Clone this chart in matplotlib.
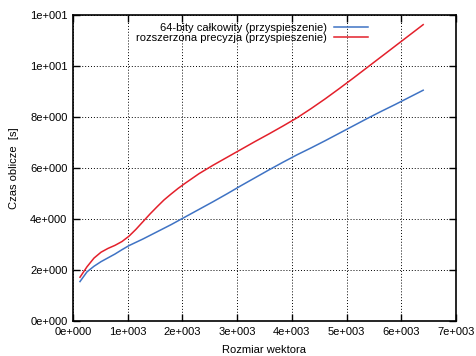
import matplotlib
matplotlib.use('Agg')
import matplotlib.pyplot as plt
from matplotlib.ticker import FuncFormatter, MultipleLocator

plt.rcParams['font.family'] = ['Liberation Sans', 'DejaVu Sans']

# rozmiar wektora
rozmiar = [128, 256, 384, 512, 640, 768, 896, 1024, 1152, 1280, 1408, 1536, 1664, 1792,
           1920, 2048, 2304, 2560, 2816, 3072, 3328, 3584, 3840, 4096, 4352, 4608,
           4864, 5120, 5376, 5632, 5888, 6144, 6400]

# 64-bity calkowity
czas_int64 = [1.55, 1.93, 2.15, 2.33, 2.48, 2.63, 2.80, 2.96, 3.09, 3.22, 3.36, 3.50, 3.64,
              3.78, 3.93, 4.08, 4.38, 4.68, 4.99, 5.31, 5.62, 5.93, 6.23, 6.52, 6.79, 7.07,
              7.36, 7.65, 7.94, 8.22, 8.49, 8.77, 9.05]

# rozszerzona precyzja
czas_ext = [1.72, 2.13, 2.47, 2.70, 2.85, 2.97, 3.12, 3.33, 3.60, 3.90, 4.20, 4.48, 4.75,
            4.98, 5.20, 5.40, 5.78, 6.11, 6.42, 6.73, 7.04, 7.34, 7.65, 7.97, 8.33, 8.71,
            9.11, 9.52, 9.94, 10.36, 10.78, 11.20, 11.62]

etykiety = ['64-bity całkowity (przyspieszenie)', 'rozszerzona precyzja (przyspieszenie)']


def gnuplot_fmt(v, pos):
    m, e = f'{v:.0e}'.split('e')
    return f'{m}e{int(e):+04d}'


fig = plt.figure(figsize=(4.77, 3.56), dpi=100)
ax = fig.add_axes([0.153, 0.098, 0.803, 0.860])

ax.plot(rozmiar, czas_int64, color='#3f73c4', linewidth=1.1, label=etykiety[0])
ax.plot(rozmiar, czas_ext, color='#e3202b', linewidth=1.1, label=etykiety[1])

ax.set_xlim(0, 7000)
ax.set_ylim(0, 12)
ax.xaxis.set_major_locator(MultipleLocator(1000))
ax.yaxis.set_major_locator(MultipleLocator(2))
ax.xaxis.set_major_formatter(FuncFormatter(gnuplot_fmt))
ax.yaxis.set_major_formatter(FuncFormatter(gnuplot_fmt))

ax.tick_params(direction='in', length=5, width=1, top=True, right=True,
               labelsize=8, pad=4)
ax.grid(True, color='black', linestyle=(0, (1, 2)), linewidth=0.7)
for s in ax.spines.values():
    s.set_linewidth(1.2)

ax.set_xlabel('Rozmiar wektora', fontsize=8, labelpad=6)
ax.set_ylabel('Czas oblicze  [s]', fontsize=8, labelpad=8)

ax.legend(loc='upper right', bbox_to_anchor=(0.79, 1.0), frameon=False,
          markerfirst=False, fontsize=8, handlelength=3.0, handletextpad=0.7,
          labelspacing=0.05, borderaxespad=0.3)

fig.savefig('out.png', dpi=100)
